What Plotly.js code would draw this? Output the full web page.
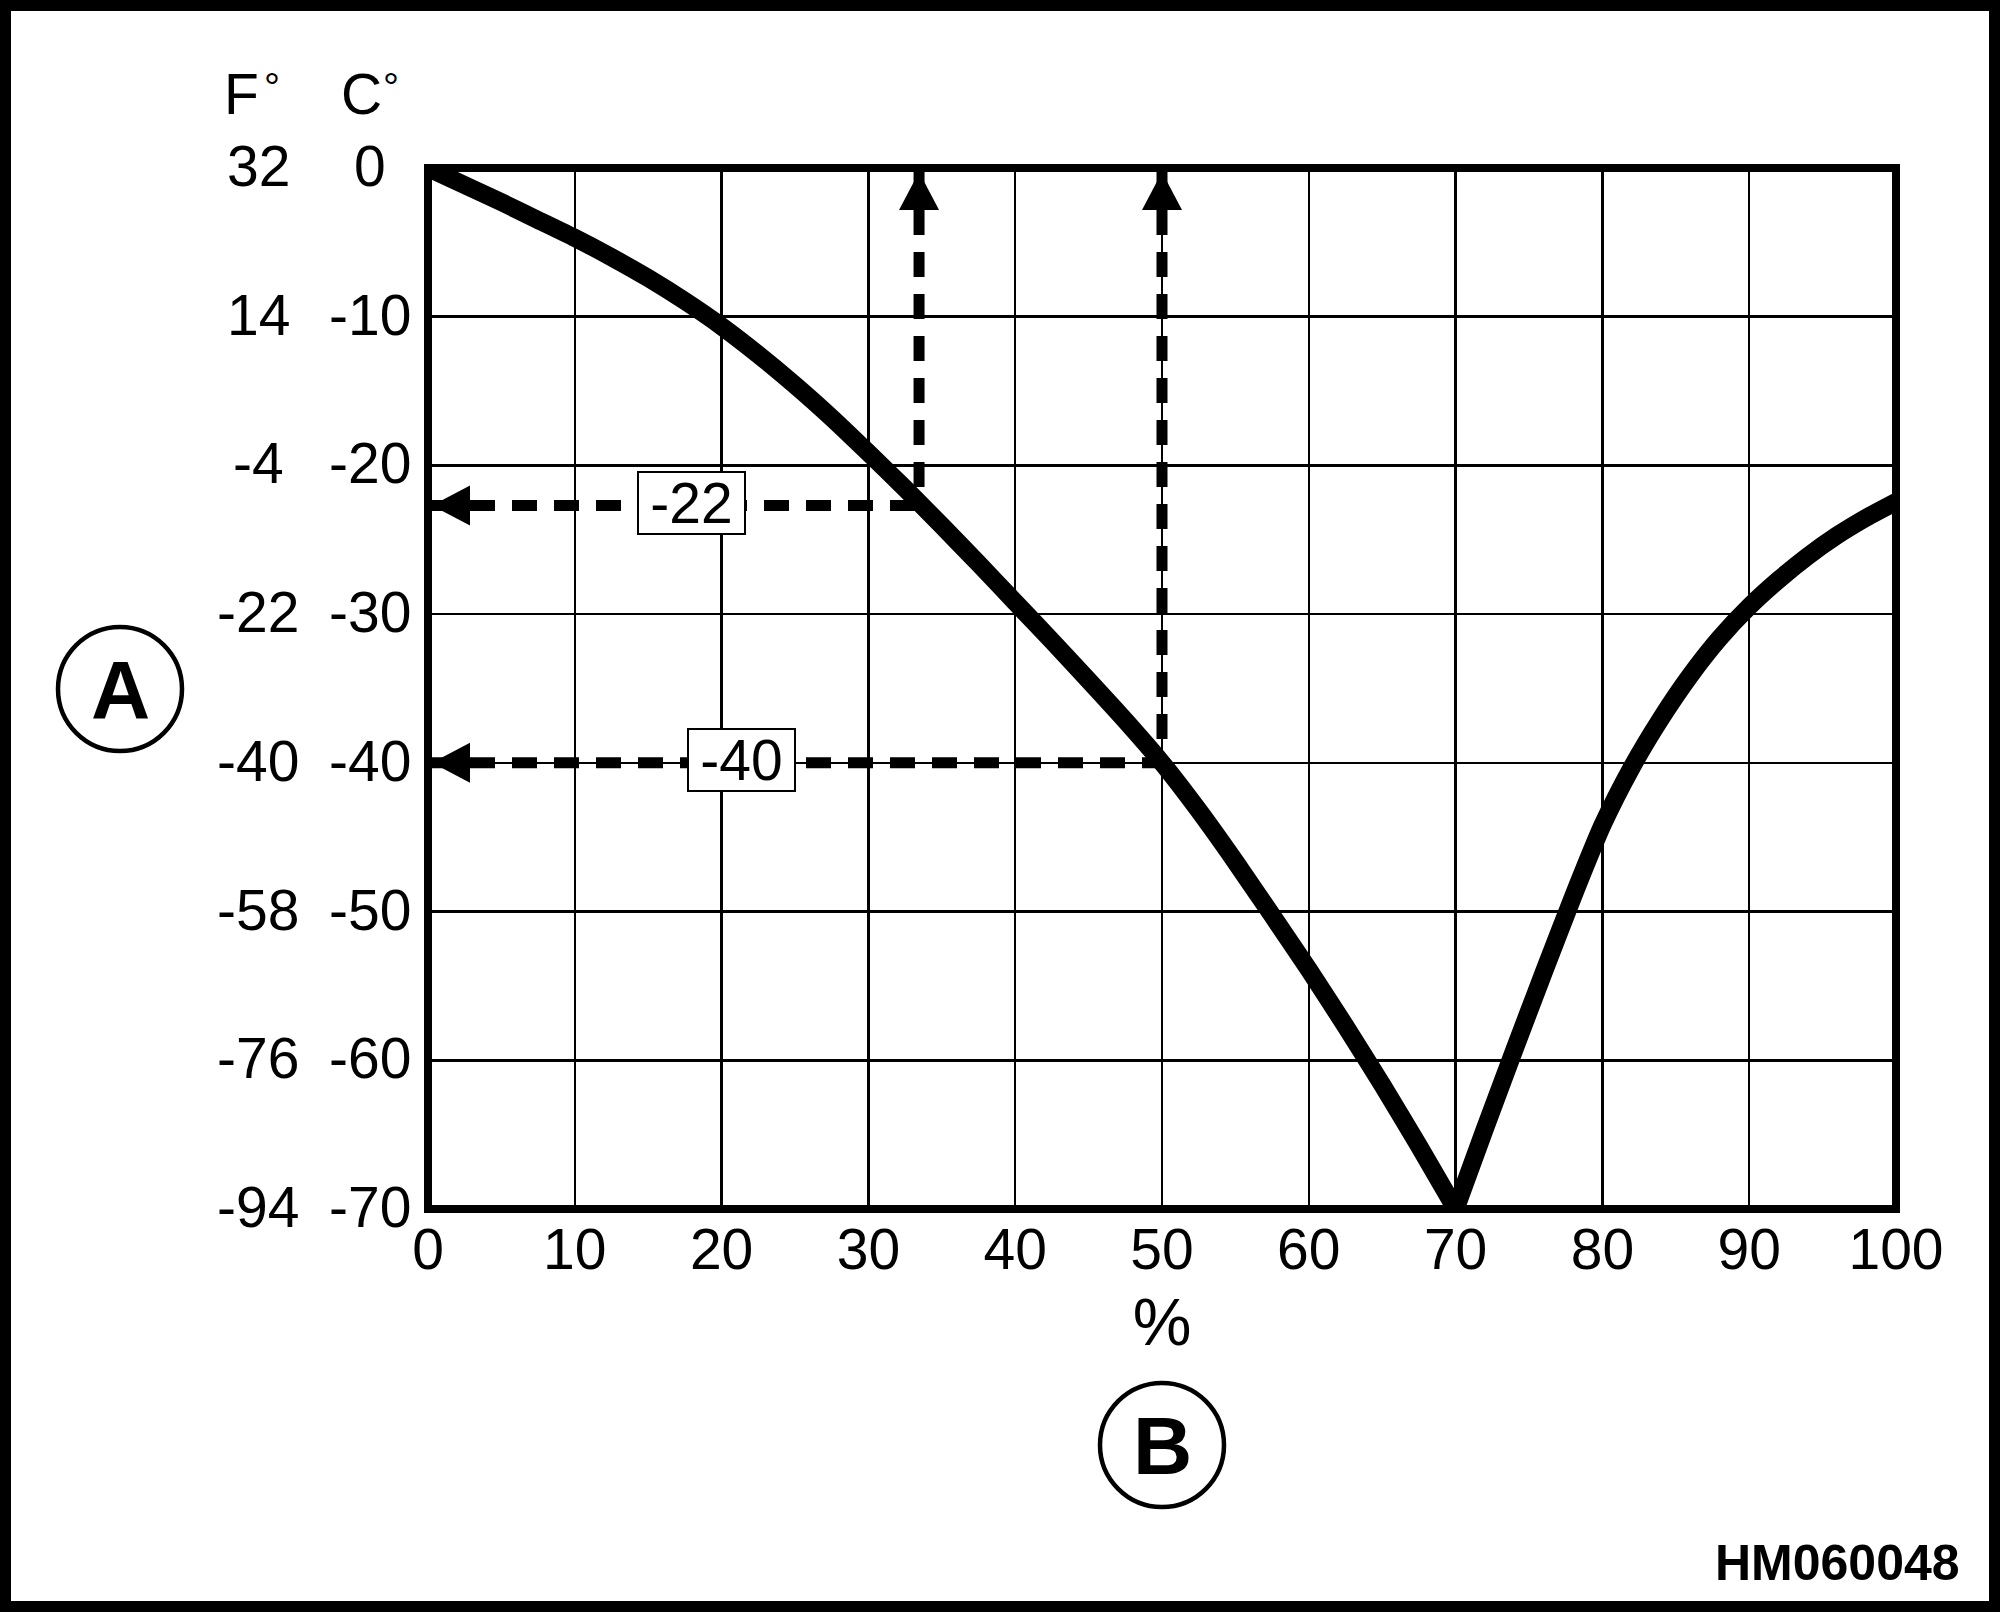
<!DOCTYPE html>
<html><head><meta charset="utf-8">
<script src="https://cdn.plot.ly/plotly-3.0.1.min.js"></script>
<style>html,body{margin:0;padding:0;background:#fff;}#chart{width:2000px;height:1612px;}</style>
</head><body><div id="chart"></div>
<script>
// ---- data ----
const solutionPct = [0,2.5,5,7.5,10,12.5,15,17.5,20,22.5,25,27.5,30,32.5,35,37.5,40,42.5,45,47.5,50,52.5,55,57.5,60,62.5,65,67.5,70,72,74,76,78,80,82,84,86,88,90,92,94,96,98,100];
const freezeC = [0,-1.15,-2.3,-3.5,-4.7,-6.0,-7.4,-8.95,-10.65,-12.55,-14.6,-16.8,-19.15,-21.55,-24.05,-26.6,-29.2,-31.8,-34.45,-37.15,-40.0,-43.2,-46.65,-50.25,-53.9,-57.7,-61.65,-65.75,-70.0,-64.6,-59.3,-54.1,-49.0,-44.2,-40.3,-37.0,-34.1,-31.6,-29.5,-27.7,-26.1,-24.7,-23.5,-22.45];
const xTicks = [0,10,20,30,40,50,60,70,80,90,100];
const cTicks = [0,-10,-20,-30,-40,-50,-60,-70];
const cTickText = ['0','-10','-20','-30','-40','-50','-60','-70'];
const fTickText = ['32','14','-4','-22','-40','-58','-76','-94'];
const examplePct = [33.45, 50];
const exampleC = [-22.7, -40];
const exampleLabels = ['-22', '-40'];

// ---- geometry (pixels) ----
const L = 428, T = 168, W = 1468, H = 1041;
const px = v => (v - L) / W;
const py = v => (T + H - v) / H;
const FONT = 'Liberation Sans, Arial, Helvetica, sans-serif';

// split the curve at its minimum so the V stays sharp
const iMin = freezeC.indexOf(Math.min(...freezeC));
const curveStyle = {color: '#000', width: 18, shape: 'spline', smoothing: 0.6};
const traces = [
  {x: solutionPct.slice(0, iMin + 1), y: freezeC.slice(0, iMin + 1), type: 'scatter', mode: 'lines',
   line: curveStyle, hoverinfo: 'skip', showlegend: false},
  {x: solutionPct.slice(iMin), y: freezeC.slice(iMin), type: 'scatter', mode: 'lines',
   line: curveStyle, hoverinfo: 'skip', showlegend: false}
];
const shapes = [];
const dashStyle = {color: '#000', width: 11, dash: '25px,17px'};
examplePct.forEach((p, i) => {
  traces.push({x: [0, p], y: [exampleC[i], exampleC[i]], type: 'scatter', mode: 'lines',
    line: dashStyle, hoverinfo: 'skip', showlegend: false});
  traces.push({x: [p, p], y: [0, exampleC[i]], type: 'scatter', mode: 'lines',
    line: dashStyle, hoverinfo: 'skip', showlegend: false});
  // arrowheads
  shapes.push({type: 'path', xref: 'x', yref: 'y', xsizemode: 'pixel', ysizemode: 'pixel',
    xanchor: p, yanchor: 0, path: 'M0,-4L-20,-42L20,-42Z', fillcolor: '#000', line: {width: 0}, layer: 'above'});
  shapes.push({type: 'path', xref: 'x', yref: 'y', xsizemode: 'pixel', ysizemode: 'pixel',
    xanchor: 0, yanchor: exampleC[i], path: 'M4,0L42,20L42,-20Z', fillcolor: '#000', line: {width: 0}, layer: 'above'});
});
// plot border
shapes.push({type: 'rect', xref: 'paper', yref: 'paper', x0: 0, x1: 1, y0: 0, y1: 1,
  line: {color: '#000', width: 8}, layer: 'above'});
// outer frame
shapes.push({type: 'rect', xref: 'paper', yref: 'paper', x0: px(5.5), x1: px(1994.5), y0: py(1606.5), y1: py(5.5),
  line: {color: '#000', width: 11}, layer: 'above'});
// circles A and B
[[120, 689], [1162, 1445]].forEach(c => {
  shapes.push({type: 'circle', xref: 'paper', yref: 'paper', x0: px(c[0]-62), x1: px(c[0]+62),
    y0: py(c[1]+62), y1: py(c[1]-62), line: {color: '#000', width: 4.5}, layer: 'above'});
});

const annotations = [];
cTicks.forEach((c, i) => {
  annotations.push({xref: 'paper', yref: 'y', x: px(258), y: c, yshift: 2, text: fTickText[i], showarrow: false,
    xanchor: 'center', yanchor: 'middle', font: {family: FONT, size: 57, color: '#000'}});
  annotations.push({xref: 'paper', yref: 'y', x: px(370), y: c, yshift: 2, text: cTickText[i], showarrow: false,
    xanchor: 'center', yanchor: 'middle', font: {family: FONT, size: 57, color: '#000'}});
});
// headers
[['F', 241], ['C', 361.5]].forEach(h => {
  annotations.push({xref: 'paper', yref: 'paper', x: px(h[1]), y: py(94), text: h[0], showarrow: false,
    xanchor: 'center', yanchor: 'middle', font: {family: FONT, size: 57, color: '#000'}});
});
[272, 391].forEach(xp => {
  annotations.push({xref: 'paper', yref: 'paper', x: px(xp), y: py(87.4), text: '°', showarrow: false,
    xanchor: 'center', yanchor: 'middle', font: {family: FONT, size: 40, color: '#000'}});
});
// A, B
annotations.push({xref: 'paper', yref: 'paper', x: px(120), y: py(689), text: '<b>A</b>', showarrow: false,
  xanchor: 'center', yanchor: 'middle', font: {family: FONT, size: 82, color: '#000'}});
annotations.push({xref: 'paper', yref: 'paper', x: px(1162), y: py(1445), text: '<b>B</b>', showarrow: false,
  xanchor: 'center', yanchor: 'middle', font: {family: FONT, size: 82, color: '#000'}});
annotations.push({xref: 'paper', yref: 'paper', x: px(1962), y: py(1563), text: '<b>HM060048</b>', showarrow: false,
  xanchor: 'right', yanchor: 'middle', font: {family: FONT, size: 50, color: '#000'}});
// boxed example labels
const labelX = [17.95, 21.36];
exampleLabels.forEach((t, i) => {
  annotations.push({xref: 'x', yref: 'y', x: labelX[i], y: exampleC[i], yshift: 3, text: t, showarrow: false,
    xanchor: 'center', yanchor: 'middle', width: 105, height: 60, borderpad: 0, borderwidth: 2,
    bordercolor: '#000', bgcolor: '#fff', font: {family: FONT, size: 57, color: '#000'}});
});

const layout = {
  width: 2000, height: 1612,
  margin: {l: L, r: 2000 - L - W, t: T, b: 1612 - T - H, pad: 0},
  paper_bgcolor: '#fff', plot_bgcolor: '#fff',
  showlegend: false, hovermode: false,
  font: {family: FONT, color: '#000'},
  xaxis: {range: [0, 100], tickvals: xTicks, ticktext: xTicks.map(String), ticks: '',
    showgrid: true, gridcolor: '#000', gridwidth: 2.5, zeroline: false, showline: false,
    tickfont: {family: FONT, size: 57, color: '#000'}, ticklabelstandoff: 2, automargin: false,
    title: {text: '%', font: {family: FONT, size: 66, color: '#000'}, standoff: 18}},
  yaxis: {range: [-70, 0], tickvals: cTicks, showticklabels: false, ticks: '',
    showgrid: true, gridcolor: '#000', gridwidth: 2.5, zeroline: false, showline: false, automargin: false},
  shapes: shapes, annotations: annotations
};
Plotly.newPlot('chart', traces, layout, {staticPlot: true, displayModeBar: false});
</script></body></html>
